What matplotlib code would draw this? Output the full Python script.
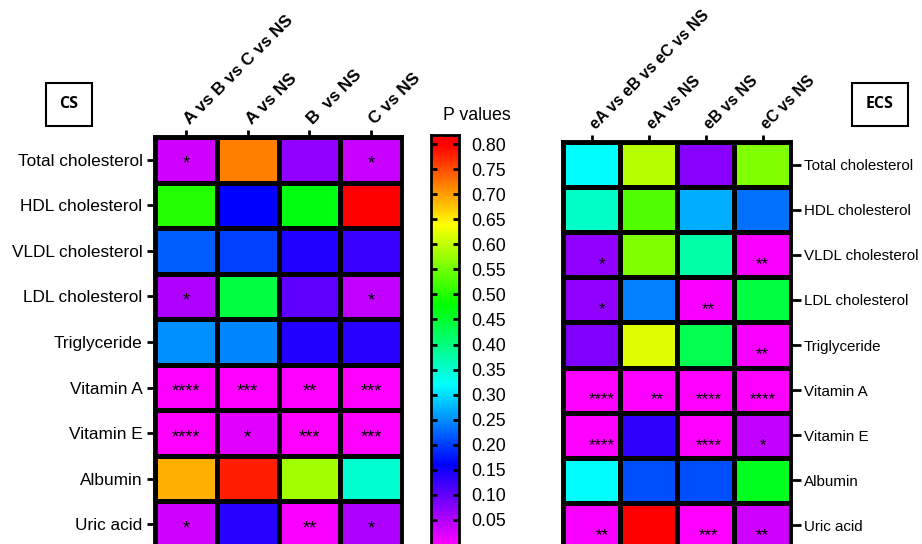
import colorsys
import numpy as np
import matplotlib
matplotlib.use("Agg")
import matplotlib.pyplot as plt
from matplotlib.colors import ListedColormap, Normalize
from matplotlib.patches import Rectangle
from matplotlib.transforms import ScaledTranslation

plt.rcParams['font.family'] = ['Liberation Sans', 'DejaVu Sans']

rows = ["Total cholesterol", "HDL cholesterol", "VLDL cholesterol", "LDL cholesterol",
        "Triglyceride", "Vitamin A", "Vitamin E", "Albumin", "Uric acid"]
cs_cols = ["A vs B vs C vs NS", "A vs NS", "B  vs NS", "C vs NS"]
ecs_cols = ["eA vs eB vs eC vs NS", "eA vs NS", "eB vs NS", "eC vs NS"]

cs_p = [
    [0.03, 0.72, 0.07, 0.035],
    [0.50, 0.16, 0.47, 0.80],
    [0.22, 0.20, 0.14, 0.125],
    [0.05, 0.44, 0.10, 0.04],
    [0.25, 0.245, 0.14, 0.135],
    [0.0001, 0.0005, 0.002, 0.0008],
    [0.0001, 0.02, 0.0008, 0.0008],
    [0.69, 0.78, 0.58, 0.35],
    [0.03, 0.135, 0.005, 0.053],
]
cs_stars = [
    ["*", "", "", "*"],
    ["", "", "", ""],
    ["", "", "", ""],
    ["*", "", "", "*"],
    ["", "", "", ""],
    ["****", "***", "**", "***"],
    ["****", "*", "***", "***"],
    ["", "", "", ""],
    ["*", "", "**", "*"],
]

ecs_p = [
    [0.32, 0.595, 0.075, 0.56],
    [0.355, 0.53, 0.27, 0.23],
    [0.07, 0.56, 0.375, 0.005],
    [0.07, 0.24, 0.005, 0.44],
    [0.08, 0.62, 0.43, 0.005],
    [0.0001, 0.002, 0.0001, 0.0001],
    [0.0001, 0.13, 0.0001, 0.04],
    [0.32, 0.21, 0.21, 0.46],
    [0.005, 0.80, 0.0008, 0.03],
]
ecs_stars = [
    ["", "", "", ""],
    ["", "", "", ""],
    ["*", "", "", "**"],
    ["*", "", "**", ""],
    ["", "", "", "**"],
    ["****", "**", "****", "****"],
    ["****", "", "****", "*"],
    ["", "", "", ""],
    ["**", "", "***", "**"],
]

cbar_ticks = [0.05, 0.10, 0.15, 0.20, 0.25, 0.30, 0.35, 0.40, 0.45,
              0.50, 0.55, 0.60, 0.65, 0.70, 0.75, 0.80]

# colormap: magenta (0) -> blue -> cyan -> green -> yellow -> red (0.8)
vals = np.linspace(0, 1, 512)
cmap = ListedColormap([colorsys.hsv_to_rgb((300.0 / 360.0) * (1 - v), 1, 1) for v in vals])
cmap.set_over((1, 0, 0))
norm = Normalize(vmin=0, vmax=0.8)

W, H = 922, 544
fig = plt.figure(figsize=(W / 100, H / 100), dpi=100)


def fx(px):
    return px / W


def fy(py):
    return 1 - py / H


def heatmap(ax, data, stars, cols, side, dx, dy, rowfs, colfs, starfs):
    data = np.array(data)
    nr, nc = data.shape
    ax.pcolormesh(np.arange(nc + 1), np.arange(nr + 1), data, cmap=cmap, norm=norm,
                  edgecolors='black', linewidth=2.2)
    ax.set_xlim(0, nc)
    ax.set_ylim(nr, 0)
    for s in ax.spines.values():
        s.set_linewidth(2.8)
    ax.set_xticks(np.arange(nc) + 0.5)
    ax.set_yticks(np.arange(nr) + 0.5)
    ax.xaxis.tick_top()
    ax.set_xticklabels(cols, rotation=45, ha='left', va='baseline', rotation_mode='anchor',
                       fontsize=colfs, fontweight='bold')
    ax.set_yticklabels(rows, fontsize=rowfs)
    if side == 'right':
        ax.yaxis.tick_right()
        ax.tick_params(axis='y', length=7, width=2, pad=2)
    else:
        ax.tick_params(axis='y', length=6, width=2, pad=3)
    ax.tick_params(axis='x', length=5, width=2, pad=4)
    shift = ScaledTranslation(4 / 100, 0, fig.dpi_scale_trans)
    for lab in ax.get_xticklabels():
        lab.set_transform(lab.get_transform() + shift)
    for i in range(nr):
        for j in range(nc):
            if stars[i][j]:
                ax.text(j + 0.5 + dx[j], i + 0.5 + dy, stars[i][j], ha='center', va='center',
                        fontsize=starfs, color='black')


# left heatmap (CS)
axL = fig.add_axes([fx(155), fy(547), fx(402 - 155), (547 - 137) / H])
heatmap(axL, cs_p, cs_stars, cs_cols, 'left', [0, 0, 0, 0], 0.1, 12.4, 12.4, 13)

# right heatmap (ECS)
axR = fig.add_axes([fx(563), fy(548), fx(791 - 563), (548 - 142) / H])
heatmap(axR, ecs_p, ecs_stars, ecs_cols, 'right', [0.18, 0.15, 0.05, 0.0], 0.22, 10.9, 11.4, 12)

# colorbar
cax = fig.add_axes([fx(431), fy(545), fx(459 - 431), (545 - 135) / H])
top = 0.818
grad = np.linspace(0, top, 400).reshape(-1, 1)
cax.imshow(grad, aspect='auto', cmap=cmap, norm=norm, origin='lower', extent=[0, 1, 0, top])
cax.set_xlim(0, 1)
cax.set_ylim(0, top)
cax.set_xticks([])
cax.set_yticks(cbar_ticks)
cax.set_yticklabels([f"{t:.2f}" for t in cbar_ticks], fontsize=12.8)
cax.yaxis.tick_right()
cax.tick_params(axis='y', left=True, right=True, direction='in', length=4, width=2, pad=9)
for s in cax.spines.values():
    s.set_linewidth(2)
fig.text(fx(477), fy(115), "P values", ha='center', va='center', fontsize=12.8)

# CS / ECS boxes
for x0, x1, label in [(46, 92, "CS"), (852, 908, "ECS")]:
    fig.patches.append(Rectangle((fx(x0), fy(126)), fx(x1 - x0), (126 - 83) / H,
                                 transform=fig.transFigure, fill=False, edgecolor='black',
                                 linewidth=1.5))
    fig.text(fx((x0 + x1) / 2), fy(104.5), label, ha='center', va='center', fontsize=11.5,
             fontweight='bold', family=['Open Sans', 'DejaVu Sans'])

fig.savefig("out.png", dpi=100)
